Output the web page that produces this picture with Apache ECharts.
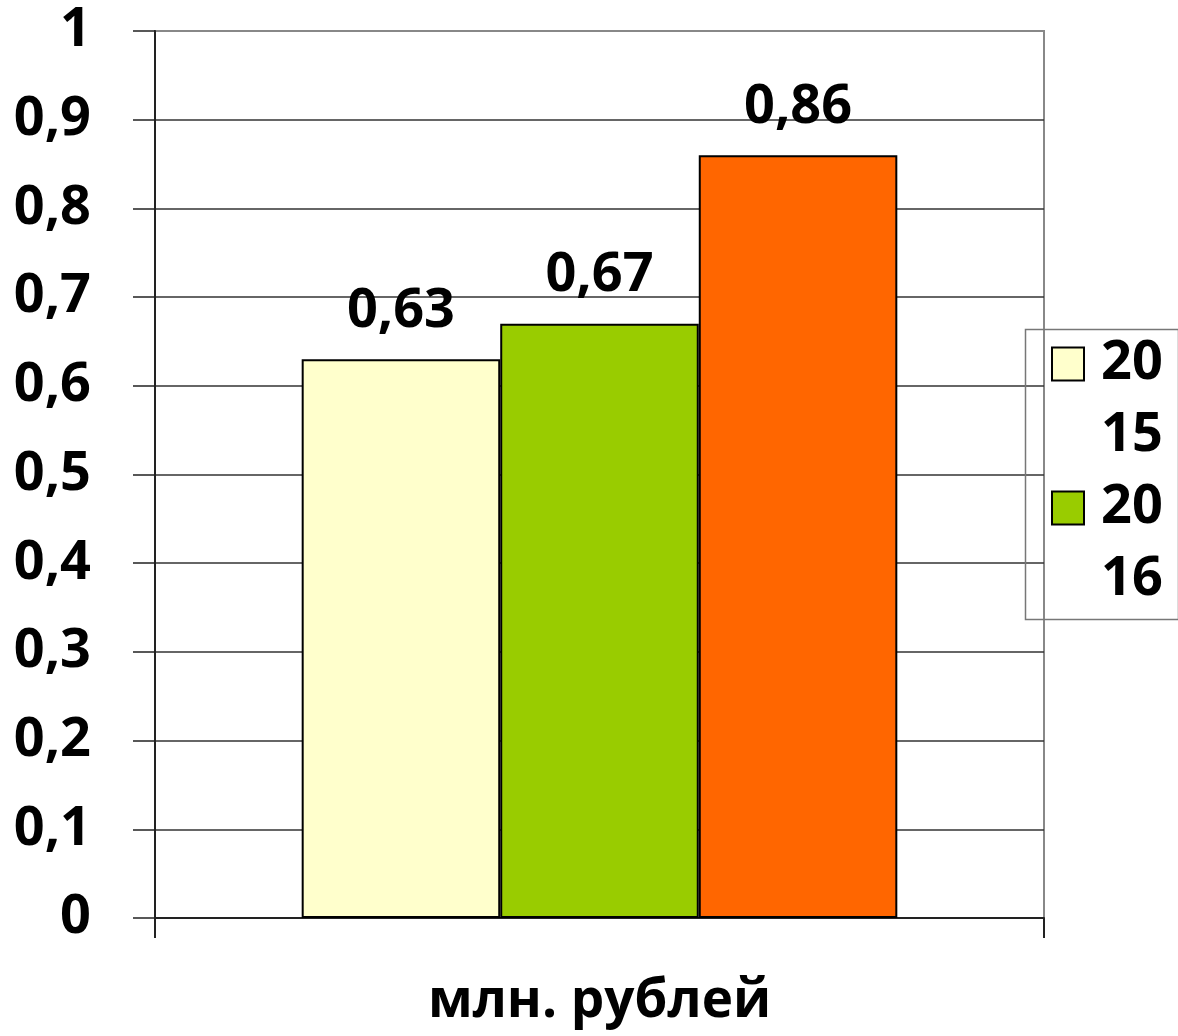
<!DOCTYPE html>
<html><head><meta charset="utf-8">
<script src="https://cdn.jsdelivr.net/npm/echarts@6/dist/echarts.min.js"></script>
<style>html,body{margin:0;padding:0;background:#fff}#c{width:1178px;height:1036px}</style>
</head><body><div id="c"></div>
<script>
const categories = ['млн. рублей'];
const seriesNames = ['2015', '2016', '2017'];
const values2015 = [0.63];
const values2016 = [0.67];
const values2017 = [0.86];
const yTicks = [0, 0.1, 0.2, 0.3, 0.4, 0.5, 0.6, 0.7, 0.8, 0.9, 1];
const colors = ['#FFFFCC', '#99CC00', '#FF6600'];

const FONT = 'Open Sans';
const fmt = v => String(v).replace('.', ',');
const chart = echarts.init(document.getElementById('c'));
const legendStyle = {
  orient: 'vertical', left: 1051, padding: 0,
  itemWidth: 32, itemHeight: 33, itemGap: 0,
  icon: 'rect',
  itemStyle: { borderColor: '#000', borderWidth: 2 },
  formatter: n => ' \n' + n.slice(0, 2) + '\n' + n.slice(2),
  textStyle: { fontFamily: FONT, fontWeight: 'bold', fontSize: 54, lineHeight: 72, color: '#000', padding: [0, 0, 0, 12] }
};
const barSeries = [values2015, values2016, values2017].map((d, i) => ({
  name: seriesNames[i], type: 'bar', data: d,
  barGap: '0%', barCategoryGap: '33%',
  itemStyle: { color: colors[i], borderColor: '#000', borderWidth: 2 },
  label: { show: true, position: 'top', distance: 21, formatter: p => fmt(p.value),
    fontFamily: FONT, fontWeight: 'bold', fontSize: 54, color: '#000' }
}));
chart.setOption({
  animation: false,
  backgroundColor: '#fff',
  grid: { left: 155, right: 134, top: 31, bottom: 118, show: true, borderColor: '#888', borderWidth: 2, backgroundColor: 'transparent' },
  legend: [
    Object.assign({ data: [seriesNames[0]], top: 256 }, legendStyle),
    Object.assign({ data: [seriesNames[1]], top: 400 }, legendStyle)
  ],
  graphic: [{ type: 'rect', left: 1023, top: 327, shape: { width: 153, height: 290 }, style: { fill: 'none', stroke: '#777', lineWidth: 1.5 }, z: 100 }],
  xAxis: {
    type: 'category', data: categories,
    axisLine: { lineStyle: { color: '#222', width: 2 } },
    axisTick: { show: true, length: 20, alignWithLabel: false, lineStyle: { color: '#222', width: 2 } },
    axisLabel: { margin: 57, fontFamily: FONT, fontWeight: 'bold', fontSize: 53, color: '#000' }
  },
  yAxis: {
    type: 'value', min: yTicks[0], max: yTicks[yTicks.length - 1], interval: 0.1,
    axisLine: { show: true, lineStyle: { color: '#222', width: 2 } },
    axisTick: { show: true, length: 22, lineStyle: { color: '#222', width: 1.5 } },
    axisLabel: { margin: 64, formatter: v => fmt(Math.round(v * 10) / 10), fontFamily: FONT, fontWeight: 'bold', fontSize: 54, color: '#000' },
    splitLine: { show: true, showMaxLine: false, lineStyle: { color: '#333', width: 1.5 } }
  },
  series: barSeries
});
</script></body></html>
